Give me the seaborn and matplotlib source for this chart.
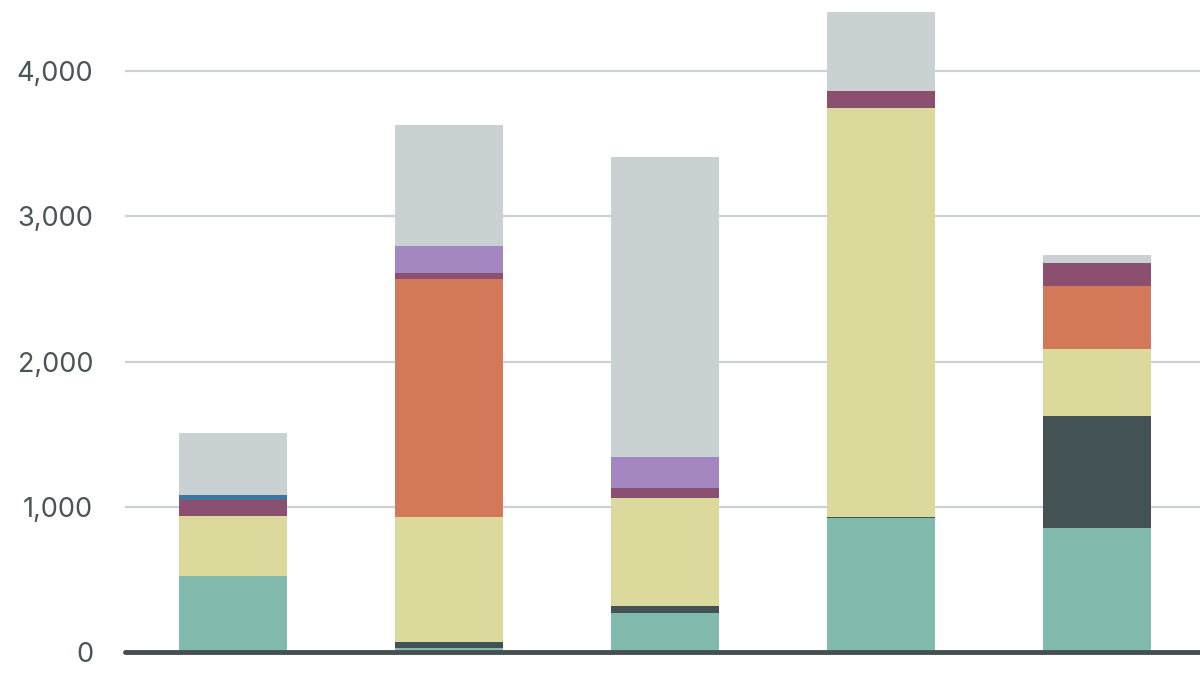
import matplotlib
matplotlib.use("Agg")
import matplotlib.pyplot as plt
import seaborn as sns
import pandas as pd
from matplotlib.ticker import FuncFormatter

# Data: five stacked bars, segments listed bottom to top
bars = ["A", "B", "C", "D", "E"]
series = ["teal", "slate", "sand", "coral", "plum", "blue", "lilac", "grey"]
colors = ["#81bbad", "#435254", "#dbd99b", "#d4785a", "#8b4f70", "#3f76a0", "#a487c0", "#c9d1d3"]

teal = [525, 30, 266, 920, 852]
slate = [0, 37, 49, 12, 773]
sand = [411, 860, 743, 2811, 459]
coral = [0, 1641, 0, 0, 434]
plum = [110, 39, 71, 117, 158]
blue = [33, 0, 0, 0, 0]
lilac = [0, 188, 211, 0, 0]
grey = [429, 833, 2068, 548, 55]

values = [teal, slate, sand, coral, plum, blue, lilac, grey]

rows = []
for s, vals in zip(series, values):
    for b, v in zip(bars, vals):
        rows.append({"bar": b, "series": s, "value": v})
df = pd.DataFrame(rows)
df["series"] = pd.Categorical(df["series"], categories=series, ordered=True)
df = df.sort_values(["bar", "series"])
df["bottom"] = df.groupby("bar")["value"].cumsum() - df["value"]

sns.set_theme(style="white")
plt.rcParams["font.family"] = ["Inter", "DejaVu Sans"]

fig = plt.figure(figsize=(12, 6.75), dpi=100)
ax = fig.add_axes([125 / 1200, 23 / 675, 1 - 125 / 1200, 1 - 23 / 675])

for s, c in zip(series, colors):
    sub = df[df["series"] == s]
    sns.barplot(data=sub, x="bar", y="value", order=bars, bottom=sub["bottom"].values,
                color=c, width=0.5, linewidth=0, saturation=1, ax=ax, zorder=2)

ax.set_xlim(-0.5, 4.477)
ax.set_ylim(0, 4489)
ax.set_yticks([0, 1000, 2000, 3000, 4000])
ax.yaxis.set_major_formatter(FuncFormatter(lambda v, p: f"{int(v):,}"))
ax.grid(axis="y", color="#cbd2d4", linewidth=1.6, zorder=0)
ax.set_axisbelow(True)
for sp in ax.spines.values():
    sp.set_visible(False)
ax.axhline(0, color="#44504f", linewidth=3.5, zorder=3, clip_on=False)
ax.set_xticks([])
ax.set_xlabel("")
ax.set_ylabel("")
ax.tick_params(axis="y", length=0, pad=23, labelsize=19.5, labelcolor="#4a5556")

fig.savefig("out.png", dpi=100)
